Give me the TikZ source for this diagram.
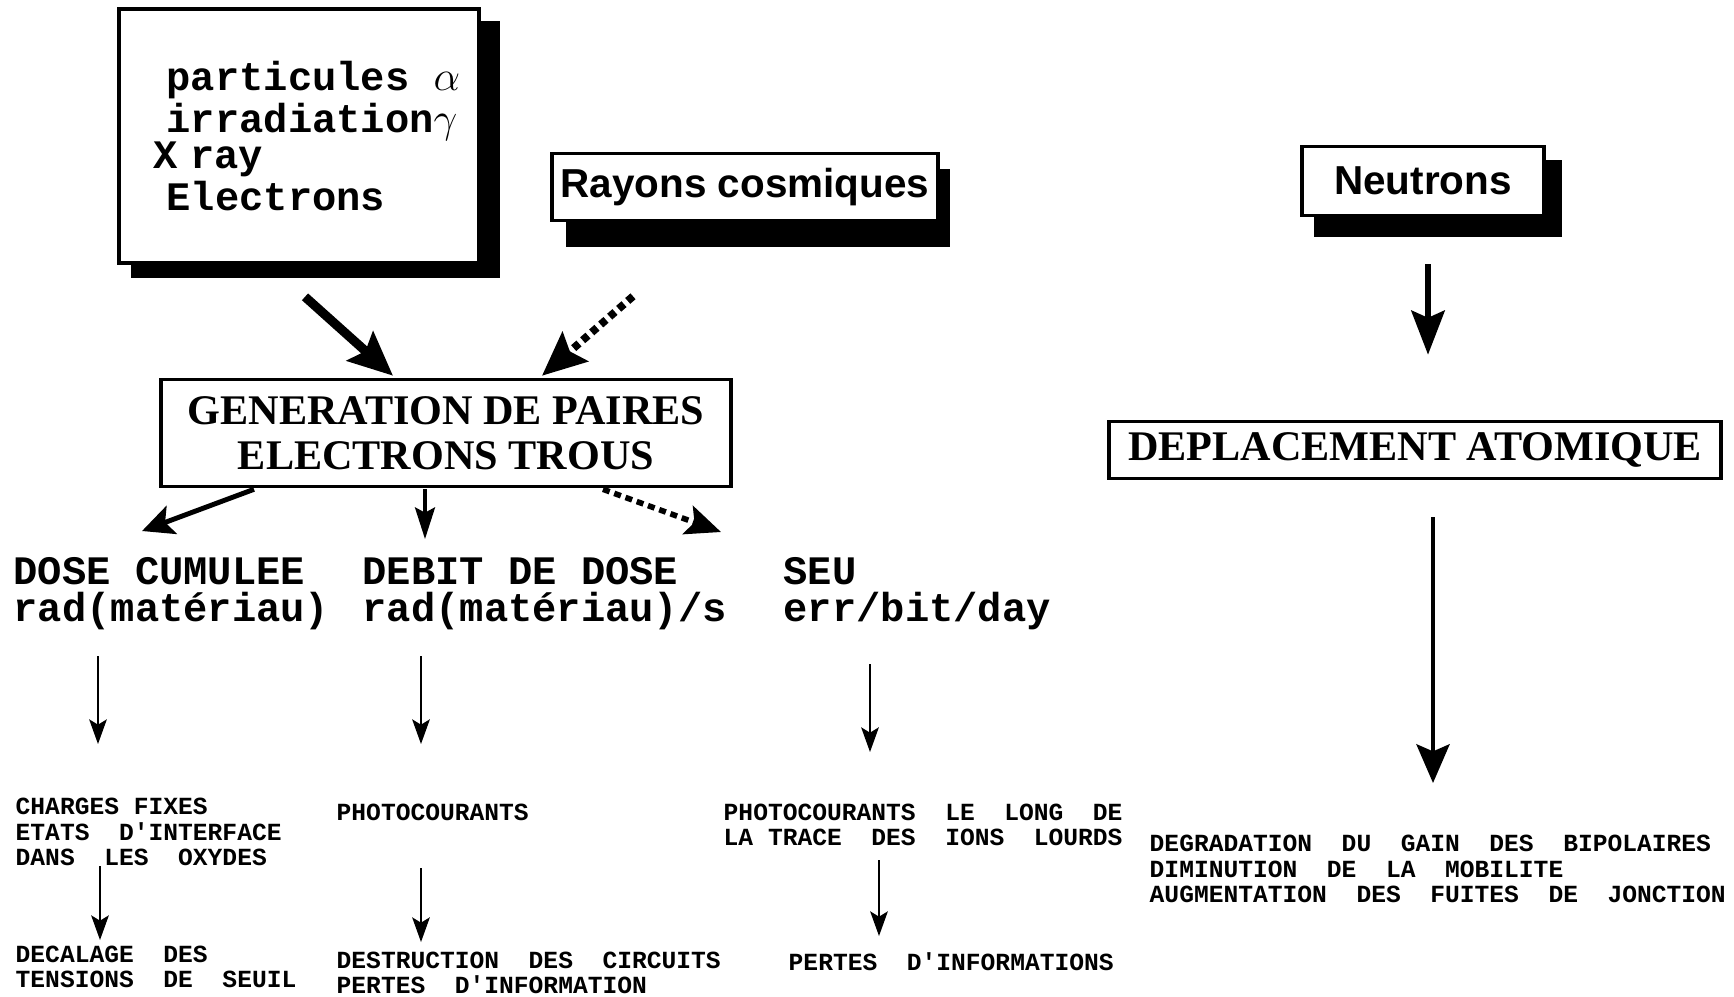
\documentclass[tikz,border=0pt]{standalone}
\usepackage{fontspec}
\newfontfamily\monob{Liberation Mono}
\newfontfamily\sansb{Liberation Sans}
\newfontfamily\serifb{Liberation Serif}
\usetikzlibrary{arrows.meta,calc,backgrounds}

\begin{document}
\begin{tikzpicture}[x=0.01cm,y=-0.01cm,>=Stealth,
  box/.style={draw,line width=1pt,fill=white,inner sep=0pt},
  big/.style={font=\monob\bfseries\fontsize{11.5}{10.5}\selectfont,align=left,anchor=west,inner sep=0pt},
  small/.style={font=\monob\bfseries\fontsize{7}{7.2}\selectfont,align=left,anchor=west,inner sep=0pt},
  thin/.style={line width=0.6pt,-{Stealth[length=7pt,width=5pt,inset=1.5pt]}},
  dots/.style={dash pattern=on 2pt off 1.4pt}]
\useasboundingbox (0,0) rectangle (1734,996);

% sources
\node[box,minimum width=3.6cm,minimum height=2.54cm] (src) at (299,136) {};
\node[big] (srcTxt) at (166,136) {particules $\alpha$\\irradiation$\gamma$\\\hspace*{-0.32em}X\hspace{0.3em}ray\\Electrons};
\node[box,minimum width=3.86cm,minimum height=0.67cm,font=\sansb\bfseries\fontsize{11.5}{12}\selectfont] (ray) at (745,187) {Rayons cosmiques};
\node[box,minimum width=2.42cm,minimum height=0.69cm,font=\sansb\bfseries\fontsize{11.5}{12}\selectfont] (neu) at (1423,181) {Neutrons};
\begin{scope}[on background layer]
\foreach \n/\a/\b/\c/\d in {src/14/14/19/13,ray/16/17/10/25,neu/14/15/16/20}
  \fill ($(\n.north west)+(\a,\b)$) rectangle ($(\n.south east)+(\c,\d)$);
\end{scope}

% effects
\node[box,minimum width=5.7cm,minimum height=1.07cm,align=center,font=\serifb\bfseries\fontsize{12}{12.9}\selectfont] (gen) at (446,433) {GENERATION DE PAIRES\\ELECTRONS TROUS};
\node[box,minimum width=6.12cm,minimum height=0.57cm,font=\serifb\bfseries\fontsize{12}{13}\selectfont] (dep) at (1415,450) {DEPLACEMENT ATOMIQUE};

\node[big] (dose) at (13,594) {DOSE CUMULEE\\rad(matériau)};
\node[big] (debit) at (362,594) {DEBIT DE DOSE\\rad(matériau)/s};
\node[big] (seu) at (783,594) {SEU\\err/bit/day};

\node[small] (chg) at (15,832) {CHARGES FIXES\\ETATS~~D'INTERFACE\\DANS~~LES~~OXYDES};
\node[small] (photo) at (336,812) {PHOTOCOURANTS};
\node[small] (trace) at (723,825) {PHOTOCOURANTS~~LE~~LONG~~DE\\LA TRACE~~DES~~IONS~~LOURDS};
\node[small] (dec) at (15,967) {DECALAGE~~DES\\TENSIONS~~DE~~SEUIL};
\node[small] (destr) at (336,973) {DESTRUCTION~~DES~~CIRCUITS\\PERTES~~D'INFORMATION};
\node[small] (pertes) at (788,962) {PERTES~~D'INFORMATIONS};
\node[small] (degr) at (1149,869) {DEGRADATION~~DU~~GAIN~~DES~~BIPOLAIRES\\DIMINUTION~~DE~~LA~~MOBILITE\\AUGMENTATION~~DES~~FUITES~~DE~~JONCTION};

% arrows
\draw[line width=2.6pt,-{Stealth[length=12.5pt,width=11pt,inset=2pt]}] ($(src.south)+(6,32)$) -- ($(gen.north)+(-53,-2)$);
\draw[line width=2.2pt,dots,-{Stealth[length=12.5pt,width=11pt,inset=2pt]}] ($(ray.south)+(-112,74)$) -- ($(gen.north)+(96,-2)$);
\draw[line width=1.4pt,-{Stealth[length=9pt,width=8.5pt,inset=2pt]}] ($(gen.south)+(-192,1)$) -- ($(dose.west)+(129,-63)$);
\draw[line width=0.9pt,-{Stealth[length=9pt,width=5.7pt,inset=1.5pt]}] ($(gen.south)+(-21,1)$) -- ($(debit.west)+(63,-55)$);
\draw[line width=1.6pt,dots,-{Stealth[length=10pt,width=8.5pt,inset=2pt]}] ($(gen.south)+(157,1)$) -- ($(seu.west)+(-62,-62)$);

\draw[thin] ($(dose.west)+(85,62)$) -- ++(0,88);
\draw[thin] ($(debit.west)+(59,62)$) -- ++(0,88);
\draw[thin] ($(seu.west)+(87,70)$) -- ++(0,88);
\draw[thin] ($(chg.west)+(85,34)$) -- ++(0,74);
\draw[thin] ($(photo.west)+(85,56)$) -- ++(0,74);
\draw[thin] ($(trace.west)+(156,35)$) -- ++(0,76);

\draw[line width=1.9pt,-{Stealth[length=12.5pt,width=9.4pt,inset=2pt]}] ($(neu.south)+(5,47)$) -- ($(dep.north)+(13,-65)$);
\draw[line width=1.25pt,-{Stealth[length=11pt,width=9.4pt,inset=2pt]}] ($(dep.south)+(18,37)$) -- ($(degr.west)+(284,-86)$);
\end{tikzpicture}
\end{document}
